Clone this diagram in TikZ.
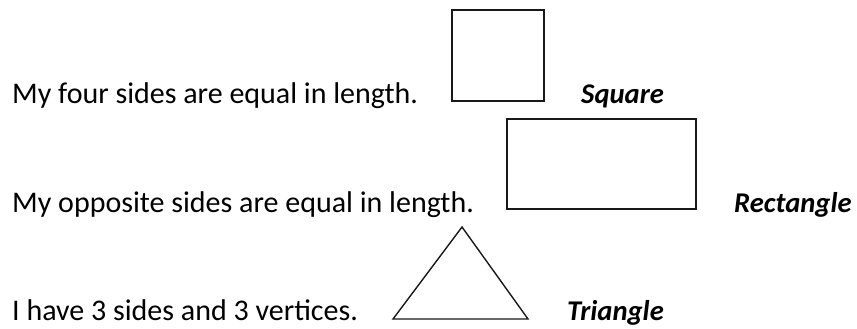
\documentclass[tikz,border=0pt]{standalone}
\usepackage{fontspec}
\setmainfont{Carlito}
\begin{document}
\begin{tikzpicture}[x=1pt,y=1pt,
  desctext/.style={anchor=base west,inner sep=0pt,font=\fontsize{30}{34}\selectfont},
  shapename/.style={anchor=base west,inner sep=0pt,font=\fontsize{28.6}{33}\selectfont\bfseries\itshape},
  outline/.style={draw=black!90,line width=1.4pt,line join=miter}]
\useasboundingbox (0,0) rectangle (857,329);
% row 1
\node[desctext] (t1) at (12,225) {My four sides are equal in length.};
\draw[outline] (452,319) rectangle (544,228);
\node[shapename] (n1) at (581,225) {Square};
% row 2
\node[desctext] (t2) at (12,116) {My opposite sides are equal in length.};
\draw[outline] (507,210) rectangle (696,120);
\node[shapename] (n2) at (734,116) {Rectangle};
% row 3
\node[desctext] (t3) at (12,8) {I have 3 sides and 3 vertices.};
\coordinate (a) at (462,102);
\coordinate (b) at (393,10);
\coordinate (c) at (528,10);
\draw[outline] (a) -- (b) -- (c) -- cycle;
\node[shapename] (n3) at (567,8) {Triangle};
\end{tikzpicture}
\end{document}
